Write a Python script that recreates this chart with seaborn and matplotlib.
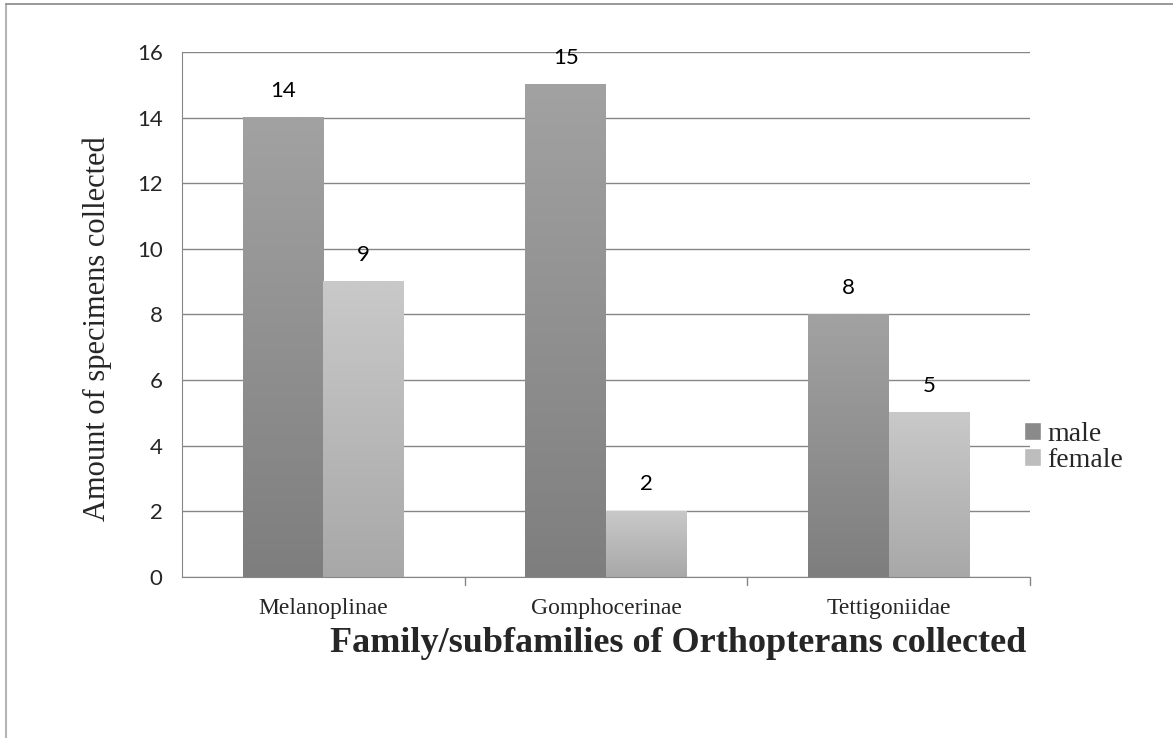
import numpy as np
import pandas as pd
import seaborn as sns
import matplotlib.pyplot as plt
from matplotlib.colors import LinearSegmentedColormap
from matplotlib.patches import Patch
from matplotlib.lines import Line2D

families = ["Melanoplinae", "Gomphocerinae", "Tettigoniidae"]
male = [14, 15, 8]
female = [9, 2, 5]
sexes = ["male", "female"]

df = pd.DataFrame({
    "family": families * 2,
    "sex": ["male"] * 3 + ["female"] * 3,
    "count": male + female,
})

sns.set_style("white")
fig = plt.figure(figsize=(11.73, 7.38), dpi=100)
ax = fig.add_axes([0.1552, 0.2182, 0.7229, 0.7113])

sns.barplot(data=df, x="family", y="count", hue="sex", hue_order=sexes,
            palette=["#8f8f8f", "#bbbbbb"], width=0.57, gap=0,
            legend=False, ax=ax, zorder=2)

# gradient fill, darker at the bottom (like the Excel original)
grads = {
    "male": LinearSegmentedColormap.from_list("m", ["#7e7e7e", "#a2a2a2"]),
    "female": LinearSegmentedColormap.from_list("f", ["#a8a8a8", "#c9c9c9"]),
}
grad = np.linspace(0, 1, 256).reshape(-1, 1)
bars = [p for p in ax.patches][:6]
for i, bar in enumerate(bars):
    sex = "male" if i < 3 else "female"
    x0, y0 = bar.get_x(), bar.get_y()
    w, h = bar.get_width(), bar.get_height()
    bar.set_facecolor("none")
    bar.set_edgecolor("none")
    ax.imshow(grad, extent=[x0, x0 + w, y0, y0 + h], origin="lower",
              aspect="auto", cmap=grads[sex], zorder=2)
    ax.text(x0 + w / 2, y0 + h + 0.82, str(int(h)), ha="center", va="center",
            fontsize=16, family="Lato", color="black")

ax.set_xlim(-0.5, 2.5)
ax.set_ylim(0, 16)
ax.set_yticks(range(0, 17, 2))
ax.set_yticklabels([str(v) for v in range(0, 17, 2)], family="Lato", fontsize=16)
ax.set_xticks(range(3))
ax.set_xticklabels(families, family="Liberation Serif", fontsize=17)
ax.tick_params(axis="y", length=6, color="#868686", width=1, pad=8)
ax.tick_params(axis="x", length=0, pad=15)
for b in [0.5, 1.5, 2.5]:
    ax.plot([b, b], [0, -0.25], color="#868686", lw=1, clip_on=False)

ax.yaxis.grid(True, color="#868686", lw=1)
ax.set_axisbelow(True)
for s in ["top", "right"]:
    ax.spines[s].set_visible(False)
ax.spines["left"].set_color("#868686")
ax.spines["bottom"].set_color("#868686")

ax.set_ylabel("Amount of specimens collected", family="Liberation Serif",
              fontsize=22)
ax.yaxis.set_label_coords(-0.083, 0.474)
ax.set_xlabel("Family/subfamilies of Orthopterans collected",
              family="Liberation Serif", fontsize=26, fontweight="bold")
ax.xaxis.label.set_verticalalignment("center")
ax.xaxis.set_label_coords(0.585, -0.127)

handles = [Patch(facecolor="#8a8a8a"), Patch(facecolor="#bdbdbd")]
fig.legend(handles, sexes, loc="center left", bbox_to_anchor=(0.861, 0.394),
           frameon=False, prop={"family": "Liberation Serif", "size": 20},
           handlelength=0.6, handleheight=0.6, handletextpad=0.25,
           labelspacing=0.05, borderpad=0)

fig.add_artist(Line2D([0.0055, 0.0055], [0, 0.994], color="#b5b5b5", lw=1.5))
fig.add_artist(Line2D([0.0055, 1], [0.994, 0.994], color="#888888", lw=1.2))

fig.savefig("out.png", dpi=100)
